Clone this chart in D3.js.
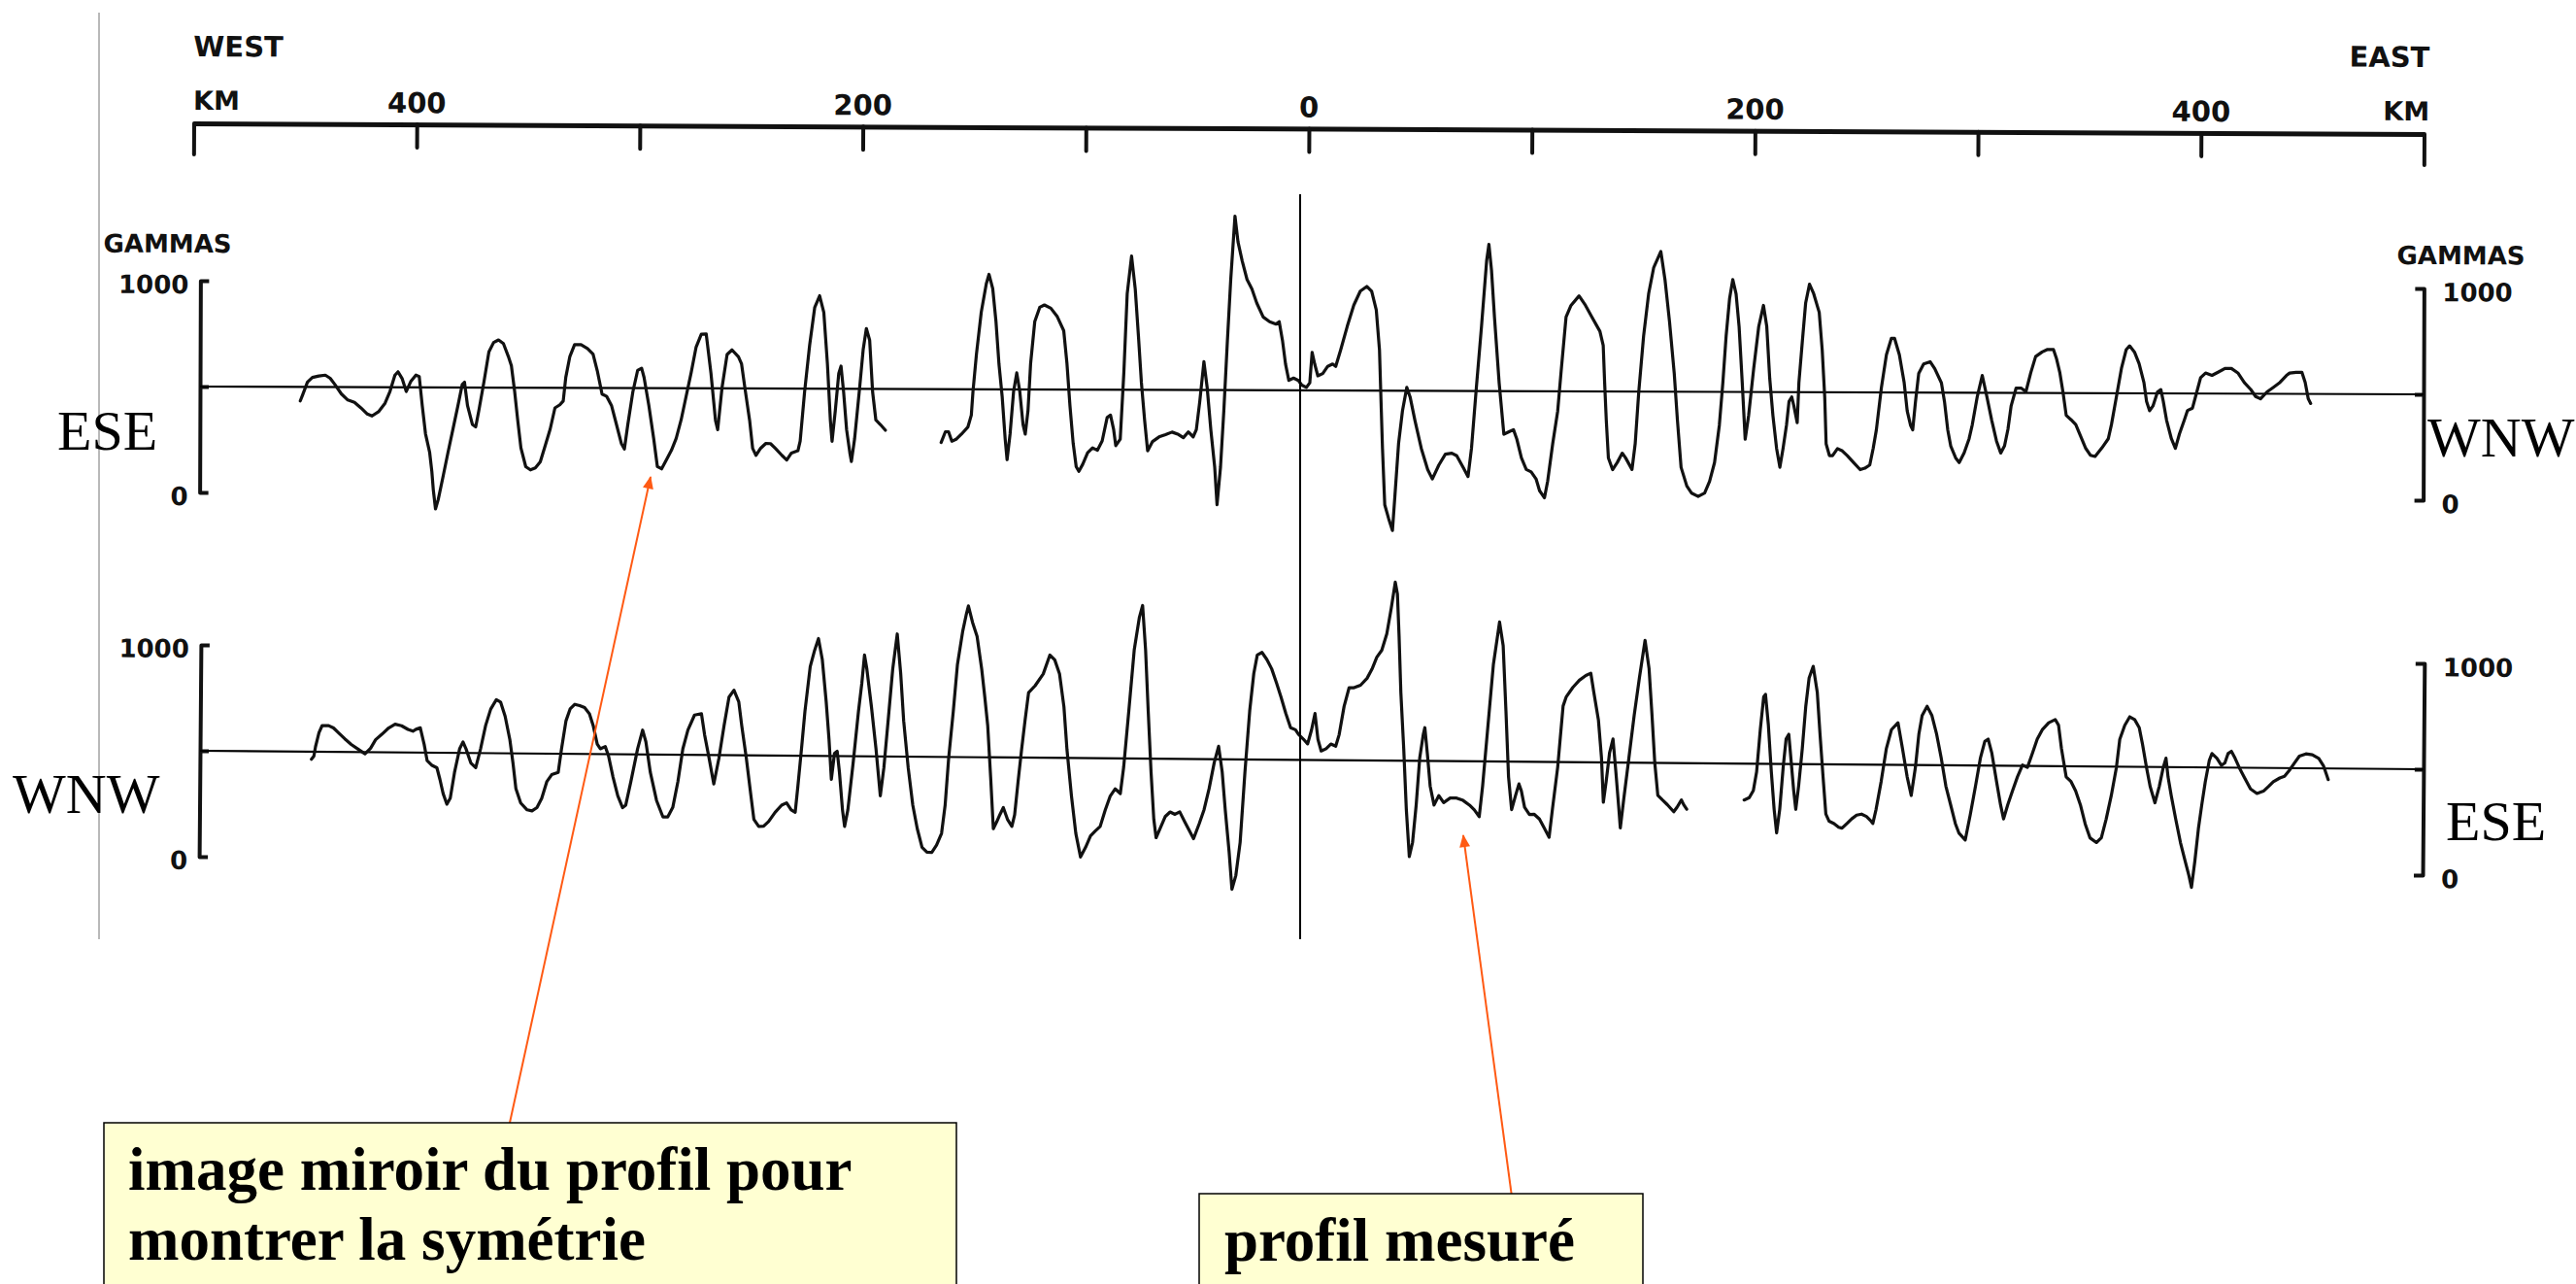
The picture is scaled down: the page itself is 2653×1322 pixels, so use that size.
<!DOCTYPE html>
<html><head><meta charset="utf-8">
<script src="https://cdn.jsdelivr.net/npm/d3@7"></script>
<style>html,body{margin:0;padding:0;background:#fff;overflow:hidden;} svg{display:block;}</style>
</head><body>
<svg id="chart" width="2653" height="1322"></svg>
<script>
// ---------- DATA ----------
const kmTicks = [-500, -400, -300, -200, -100, 0, 100, 200, 300, 400, 500];
const kmTickLabels = [[-400, "400"], [-200, "200"], [0, "0"], [200, "200"], [400, "400"]];
const gammaTicks = [0, 500, 1000];
const gammaTickLabels = [[1000, "1000"], [0, "0"]];
const directionLabels = ["WEST", "EAST"];
const unitLabels = ["KM", "GAMMAS"];
const sideLabelsTop = ["ESE", "WNW"];
const sideLabelsBottom = ["WNW", "ESE"];
const notes = [["image miroir du profil pour", "montrer la symétrie"], ["profil mesuré"]];

// mirror image of the profile (top), [km, gammas]; null = gap in the record
const mirrorProfile = [
[-452.2,434],[-451.2,461],[-449.0,523],[-446.8,545],[-443.9,552],[-441.0,556],[-438.8,541],[-436.7,512],[-433.8,468],[-430.9,439],
[-427.9,428],[-425.0,402],[-422.1,373],[-420.0,364],[-417.1,384],[-414.2,424],[-412.0,480],[-409.8,557],[-408.4,573],[-406.6,542],
[-404.7,480],[-402.6,529],[-400.4,558],[-398.9,551],[-397.5,414],[-396.0,281],[-394.1,192],[-393.1,103],[-392.4,15],[-391.4,-74],
[-390.2,-30],[-388.0,82],[-385.9,192],[-383.7,303],[-381.5,414],[-379.6,514],[-378.6,525],[-377.2,414],[-375.0,326],[-373.5,314],
[-372.1,392],[-369.9,525],[-367.7,669],[-365.6,713],[-363.4,725],[-361.2,708],[-359.0,648],[-357.6,604],[-356.1,482],[-354.7,349],
[-353.2,216],[-351.0,127],[-348.9,112],[-346.7,121],[-344.5,150],[-342.3,227],[-340.1,305],[-338.0,405],[-335.8,420],[-334.3,438],
[-333.2,549],[-331.4,648],[-329.3,704],[-326.4,704],[-323.5,686],[-321.0,660],[-319.1,582],[-316.9,471],[-314.8,460],[-312.6,416],
[-310.4,328],[-308.2,239],[-306.8,212],[-305.3,328],[-303.1,482],[-301.0,583],[-299.2,594],[-298.1,551],[-295.9,418],[-293.7,263],
[-292.0,130],[-290.1,119],[-287.9,163],[-285.7,207],[-283.6,263],[-281.4,351],[-279.2,462],[-277.0,573],[-274.8,695],[-272.5,755],
[-270.3,757],[-268.1,571],[-266.0,349],[-265.0,305],[-263.1,505],[-260.9,660],[-258.7,682],[-255.8,649],[-254.4,616],[-252.9,505],
[-250.7,350],[-249.3,217],[-247.8,184],[-245.7,218],[-243.5,240],[-241.3,240],[-239.1,218],[-236.2,185],[-234.0,163],[-231.9,196],
[-229.0,207],[-228.0,252],[-226.1,484],[-223.9,706],[-221.7,883],[-219.5,939],[-217.6,861],[-215.9,617],[-214.5,352],[-213.7,252],
[-212.3,396],[-210.8,573],[-209.8,607],[-208.6,485],[-207.2,307],[-205.7,197],[-205.0,157],[-203.6,264],[-201.4,508],[-199.9,685],
[-198.5,785],[-197.0,730],[-195.6,486],[-194.1,353],[-192.0,331],[-189.8,305],
[-177,null],
[-164.8,248],[-162.9,299],[-161.5,299],[-160.0,254],[-157.9,265],[-155.7,288],[-152.8,322],[-151.3,378],[-150.6,489],[-149.1,666],
[-147.0,865],[-144.8,998],[-143.6,1043],[-141.9,976],[-140.4,821],[-139.0,621],[-137.5,466],[-136.1,267],[-135.2,168],[-133.9,289],
[-132.4,489],[-131.0,578],[-129.6,489],[-128.1,334],[-127.1,289],[-125.9,400],[-124.8,622],[-123.0,821],[-120.8,888],[-118.7,899],
[-115.8,884],[-112.9,844],[-110.0,778],[-108.5,623],[-107.1,424],[-105.6,247],[-104.2,136],[-103.0,114],[-101.3,147],[-99.1,202],
[-96.9,225],[-94.7,214],[-92.6,258],[-90.4,369],[-88.9,380],[-87.5,314],[-86.5,236],[-84.5,267],[-83.0,578],[-81.6,954],
[-79.7,1132],[-78.0,976],[-76.5,755],[-75.1,534],[-73.6,357],[-72.2,212],[-70.0,256],[-67.1,278],[-64.2,289],[-61.3,301],
[-58.4,290],[-56.2,275],[-54.0,302],[-51.8,279],[-50.4,313],[-48.9,446],[-47.1,634],[-45.6,512],[-43.9,313],[-42.1,136],
[-41.0,-41],[-39.5,136],[-38.1,402],[-36.6,734],[-35.2,1023],[-33.4,1322],[-32.0,1200],[-30.1,1111],[-27.9,1023],[-25.7,978],
[-23.5,912],[-20.6,846],[-17.7,824],[-14.8,813],[-13.4,824],[-11.9,735],[-10.5,624],[-9.0,547],[-6.9,558],[-4.7,547],
[-3.2,525],[-1.1,514],[0.4,536],[1.4,680],[2.6,624],[4.0,569],[6.2,580],[8.4,614],[10.6,625],[12.0,614],
[14.2,692],[17.1,803],[20.0,903],[22.9,970],[25.8,992],[28.0,969],[30.1,881],[31.6,692],[32.3,471],[33.1,227],
[34.2,-39],[36.0,-105],[37.7,-160],[38.9,28],[40.3,250],[42.0,405],[43.9,516],[45.4,471],[47.6,360],[50.5,228],
[53.4,128],[55.5,84],[58.4,150],[61.3,201],[64.2,206],[66.4,194],[69.3,139],[71.5,96],[73.0,229],[75.1,517],
[77.3,805],[79.5,1115],[80.5,1193],[81.7,1071],[83.1,850],[85.3,539],[87.5,296],[89.6,307],[91.8,318],[93.3,274],
[95.4,185],[97.6,130],[99.8,119],[102.0,86],[103.6,30],[105.8,-3],[107.2,75],[109.4,252],[111.6,407],[113.0,585],
[115.2,851],[117.4,906],[121.0,951],[123.9,906],[126.8,851],[130.4,784],[131.9,718],[132.6,541],[133.4,364],[134.4,186],
[136.3,131],[138.4,165],[140.6,209],[142.1,187],[145.0,132],[146.4,254],[147.9,497],[150.0,763],[152.2,963],[154.4,1085],
[157.6,1162],[159.5,1029],[161.6,830],[163.8,586],[165.3,365],[167.0,143],[169.6,55],[171.8,21],[174.7,6],[177.6,22],
[179.8,77],[182.0,166],[184.1,343],[185.6,543],[187.0,764],[188.5,942],[189.9,1031],[191.4,963],[192.8,808],[194.3,543],
[195.7,277],[197.2,388],[199.4,610],[201.6,809],[203.7,909],[205.2,810],[206.6,566],[208.1,389],[209.8,234],[211.3,145],
[212.7,234],[214.2,344],[215.3,456],[216.5,477],[217.5,434],[219.0,356],[219.7,544],[221.2,743],[222.6,921],[224.3,1010],
[226.2,965],[228.7,877],[230.1,699],[231.3,478],[232.0,256],[233.5,201],[234.9,201],[237.1,234],[239.3,223],[241.5,201],
[244.4,168],[247.3,135],[249.4,142],[251.6,157],[253.1,235],[254.5,323],[256.7,523],[258.9,678],[261.1,756],[262.5,756],
[264.7,678],[266.9,546],[268.3,413],[269.8,346],[270.8,324],[272.0,457],[273.4,590],[275.6,635],[278.5,646],[280.6,613],
[283.6,546],[285.0,458],[286.5,325],[287.9,247],[290.1,192],[291.7,170],[293.9,216],[296.1,283],[297.5,349],[299.7,482],
[301.9,582],[304.0,482],[306.2,371],[308.4,272],[310.3,216],[312.0,250],[313.5,328],[314.9,439],[317.1,523],[319.3,523],
[321.5,506],[323.6,594],[325.8,672],[328.7,694],[330.9,705],[333.8,705],[335.2,661],[336.7,595],[338.1,506],[339.6,395],
[341.8,374],[343.9,351],[346.1,296],[348.3,241],[350.5,207],[352.6,201],[355.6,241],[358.5,285],[359.9,352],[362.1,485],
[364.3,618],[366.4,706],[367.9,724],[370.1,695],[372.2,640],[374.4,551],[375.6,462],[377.0,418],[378.5,441],[380.5,507],
[382.0,518],[383.1,463],[384.6,374],[386.8,286],[388.6,241],[390.4,309],[392.6,376],[394.0,420],[396.2,431],[397.6,487],
[399.8,575],[402.0,597],[404.9,586],[407.8,602],[410.7,619],[413.6,619],[416.5,598],[419.4,553],[422.3,520],[424.5,487],
[426.7,476],[429.6,509],[432.5,531],[435.4,554],[438.3,587],[439.7,598],[442.6,602],[445.2,602],[446.7,554],[448.1,477],
[449.2,455]
];

// measured profile (bottom), [km, gammas]; null = gap in the record
const measuredProfile = [
[-447.2,464],[-446.1,479],[-445.4,524],[-443.9,590],[-442.5,624],[-439.6,624],[-437.4,613],[-435.2,591],[-432.3,562],[-429.4,536],
[-425.8,510],[-423.2,492],[-420.7,519],[-418.5,559],[-415.6,586],[-412.7,615],[-409.8,633],[-406.9,626],[-404.0,609],[-401.8,601],
[-400.4,610],[-398.5,617],[-396.7,539],[-395.3,462],[-393.1,440],[-390.9,429],[-389.5,374],[-388.0,307],[-386.3,257],[-384.8,286],
[-383.0,407],[-380.8,519],[-379.3,552],[-377.9,519],[-375.7,453],[-373.5,431],[-371.4,520],[-369.2,631],[-367.0,708],[-364.5,753],
[-362.6,742],[-360.5,675],[-358.3,565],[-356.8,454],[-355.4,333],[-353.2,266],[-350.3,234],[-348.1,229],[-345.9,245],[-343.8,289],
[-341.6,367],[-339.4,401],[-336.5,412],[-335.1,523],[-333.2,656],[-331.4,712],[-329.3,734],[-327.1,728],[-324.9,719],[-322.7,690],
[-321.0,635],[-319.1,547],[-317.7,525],[-315.5,536],[-314.0,492],[-311.9,392],[-309.7,304],[-307.5,248],[-306.1,260],[-303.9,371],
[-301.0,526],[-298.8,615],[-297.3,560],[-295.2,416],[-292.3,283],[-289.4,206],[-287.2,206],[-285.0,251],[-282.8,373],[-280.7,528],
[-278.5,617],[-275.6,688],[-272.5,695],[-271.0,595],[-268.9,485],[-266.7,363],[-264.5,485],[-262.3,640],[-260.2,774],[-258.0,807],
[-255.8,752],[-254.4,641],[-252.2,486],[-250.0,309],[-248.6,198],[-246.4,165],[-244.2,166],[-242.0,188],[-239.1,232],[-236.2,266],
[-234.0,277],[-231.9,244],[-230.1,233],[-229.0,355],[-227.5,533],[-226.1,710],[-223.9,921],[-222.0,998],[-220.3,1054],[-218.5,954],
[-216.6,755],[-215.2,578],[-214.0,390],[-212.7,512],[-211.5,523],[-210.4,423],[-208.9,246],[-207.9,168],[-206.5,246],[-204.3,468],
[-202.1,712],[-200.7,845],[-199.6,978],[-198.5,912],[-196.3,734],[-194.1,535],[-192.0,314],[-190.5,447],[-188.6,691],[-186.9,913],
[-185.0,1079],[-183.3,891],[-181.8,669],[-179.6,448],[-177.4,271],[-175.3,160],[-173.1,72],[-170.9,50],[-168.7,49],[-166.6,83],
[-164.4,139],[-162.9,272],[-161.5,493],[-159.6,715],[-157.9,937],[-155.7,1092],[-154.2,1170],[-153.2,1214],[-151.3,1137],[-149.2,1071],
[-147.0,916],[-145.5,783],[-144.1,650],[-142.6,407],[-141.2,163],[-139.7,196],[-138.3,230],[-136.8,263],[-134.9,208],[-132.9,175],
[-131.7,230],[-130.3,385],[-128.8,540],[-127.4,674],[-125.9,807],[-123.0,840],[-119.4,896],[-116.5,985],[-114.3,963],[-112.1,897],
[-110.0,742],[-108.5,542],[-106.3,321],[-104.2,144],[-102.0,33],[-99.8,78],[-97.6,133],[-95.5,156],[-93.3,178],[-91.1,256],
[-88.9,322],[-86.7,356],[-84.4,334],[-83.0,458],[-80.9,724],[-78.7,1012],[-76.5,1167],[-75.1,1223],[-73.6,1013],[-72.2,725],
[-70.7,437],[-69.3,215],[-68.2,127],[-66.4,171],[-64.2,227],[-62.0,249],[-59.8,238],[-57.7,250],[-55.5,205],[-53.3,161],
[-51.4,124],[-48.9,195],[-46.8,261],[-44.6,361],[-42.4,484],[-40.5,561],[-38.8,440],[-37.3,262],[-35.4,63],[-34.0,-114],
[-32.3,-48],[-30.5,108],[-28.6,441],[-26.7,729],[-25.0,906],[-23.5,994],[-21.4,1006],[-19.2,973],[-17.0,929],[-14.8,863],
[-12.7,796],[-10.5,719],[-8.3,652],[-6.1,642],[-4.7,620],[-2.5,598],[-0.6,576],[1.1,642],[2.6,720],[4.0,598],
[5.5,543],[7.7,554],[9.8,576],[12.0,566],[13.5,621],[15.6,754],[17.8,843],[20.0,843],[22.9,855],[25.8,888],
[28.0,932],[30.1,988],[32.3,1021],[34.5,1099],[36.4,1221],[38.1,1343],[39.1,1288],[40.0,1089],[41.0,823],[42.5,557],
[43.9,269],[45.4,48],[46.8,114],[48.3,292],[49.7,513],[51.2,624],[51.9,657],[53.1,536],[54.5,381],[56.3,292],
[58.4,337],[60.6,304],[63.5,326],[66.4,326],[69.3,315],[72.2,293],[74.4,271],[76.6,239],[78.0,383],[80.2,671],
[82.4,959],[85.0,1159],[86.7,1048],[88.2,738],[89.6,428],[91.1,273],[92.8,340],[94.3,395],[95.4,362],[96.9,285],
[99.1,251],[101.3,252],[103.6,230],[105.8,188],[108.0,144],[109.4,277],[111.6,476],[113.8,765],[115.2,809],[118.1,853],
[121.0,887],[123.9,910],[126.1,921],[127.5,832],[129.7,699],[131.2,522],[132.2,312],[133.4,411],[134.8,545],[136.3,611],
[137.7,456],[139.2,279],[139.9,191],[141.3,324],[143.5,523],[145.7,723],[147.9,900],[150.3,1078],[152.2,945],[153.7,724],
[155.1,502],[156.6,347],[158.7,325],[160.9,303],[163.8,270],[165.3,292],[167.2,326],[168.2,304],[169.6,282],
[182,null],
[195.3,328],[197.6,339],[199.4,373],[200.8,461],[202.3,661],[203.7,816],[204.5,828],[205.9,683],[207.4,462],[208.8,285],
[210.0,174],[211.3,285],[212.7,485],[213.9,618],[215.1,640],[216.1,529],[217.5,374],[218.5,286],[219.7,397],[221.2,574],
[222.6,773],[224.0,907],[225.8,962],[227.7,840],[229.1,641],[230.6,442],[232.0,265],[233.5,231],[235.7,220],[237.8,203],
[239.3,199],[241.5,221],[243.6,243],[245.8,261],[248.0,266],[250.2,255],[252.3,233],[253.1,222],[254.5,289],[256.7,422],
[258.9,577],[261.1,666],[264.0,699],[266.1,578],[268.3,445],[270.2,356],[272.0,490],[273.4,645],[274.8,734],[277.0,778],
[279.2,734],[281.4,645],[283.5,535],[285.7,402],[287.9,314],[290.1,225],[291.7,181],[294.6,148],[296.8,270],[299.0,403],
[301.1,536],[303.0,614],[304.5,625],[306.2,559],[308.4,426],[310.3,315],[311.7,249],[313.5,315],[315.6,382],[317.8,449],
[320.0,504],[322.2,493],[324.4,560],[326.5,627],[328.7,671],[331.6,705],[334.5,720],[336.0,694],[337.4,583],[339.6,450],
[341.8,428],[343.9,384],[346.1,318],[348.3,229],[350.5,163],[353.4,141],[355.6,163],[357.7,252],[359.9,363],[362.1,496],
[363.5,629],[365.7,696],[367.9,736],[370.1,723],[372.2,685],[373.7,608],[375.6,497],[377.3,408],[379.5,331],[381.4,409],
[383.1,498],[384.3,542],[385.3,453],[386.8,365],[388.9,254],[391.1,144],[393.3,55],[395.0,-11],[396.2,-67],[397.6,55],
[399.1,211],[400.5,322],[402.0,432],[403.7,532],[404.9,566],[407.1,544],[409.2,510],[410.7,522],[412.1,566],[413.6,577],
[415.3,544],[417.2,500],[419.4,456],[422.3,400],[425.2,379],[428.1,390],[430.3,412],[432.5,435],[435.4,453],[437.5,461],
[439.7,490],[441.9,524],[444.1,557],[447.0,568],[449.9,564],[452.8,547],[454.9,513],[456.4,469],[457.1,447]
];

// ---------- DRAWING ----------
const svg = d3.select("#chart");
const W = 2653, H = 1322;
svg.append("rect").attr("width", W).attr("height", H).attr("fill", "#fff");

const sansBold = "'DejaVu Sans', 'Liberation Sans', sans-serif";
const serif = "'Liberation Serif', 'Times New Roman', serif";
const ink = "#111";

const x = d3.scaleLinear().domain([-500, 500]).range([199.5, 2496.5]);
const yTop = d3.scaleLinear().domain([0, 1000]).range([507, 289]);
const yBot = d3.scaleLinear().domain([0, 1000]).range([882, 664]);

// light grey guide line on the left
svg.append("line").attr("x1", 102).attr("x2", 102).attr("y1", 13).attr("y2", 967)
  .attr("stroke", "#b9b9b9").attr("stroke-width", 2);

// ---- km axis (slightly tilted, like the scan) ----
const axisG = svg.append("g").attr("transform", "rotate(0.274,201,127)");
const axisGen = d3.axisBottom(x).tickValues(kmTicks).tickSize(24).tickSizeOuter(0).tickFormat("");
const ag = axisG.append("g").attr("transform", "translate(0,127)").call(axisGen);
ag.select(".domain").attr("stroke", ink).attr("stroke-width", 5);
ag.selectAll(".tick line").attr("stroke", ink).attr("stroke-width", 4).attr("stroke-linecap", "round")
  .attr("y2", d => Math.abs(d) === 500 ? 32 : 24);
axisG.selectAll("text.kmlab").data(kmTickLabels).join("text").attr("class", "kmlab")
  .attr("x", d => x(d[0])).attr("y", 115).attr("text-anchor", "middle")
  .attr("font-family", sansBold).attr("font-weight", "bold").attr("font-size", 29).attr("fill", ink)
  .text(d => d[1]);
axisG.append("text").attr("x", 199).attr("y", 58).attr("font-family", sansBold).attr("font-weight", "bold")
  .attr("font-size", 29).attr("fill", ink).text(directionLabels[0]);
axisG.append("text").attr("x", 2502).attr("y", 58).attr("text-anchor", "end").attr("font-family", sansBold)
  .attr("font-weight", "bold").attr("font-size", 29).attr("fill", ink).text(directionLabels[1]);
axisG.append("text").attr("x", 199).attr("y", 113).attr("font-family", sansBold).attr("font-weight", "bold")
  .attr("font-size", 27).attr("fill", ink).text(unitLabels[0]);
axisG.append("text").attr("x", 2502).attr("y", 113).attr("text-anchor", "end").attr("font-family", sansBold)
  .attr("font-weight", "bold").attr("font-size", 27).attr("fill", ink).text(unitLabels[0]);

// ---- profile panels ----
function panel(y, profile, angle, cy, showGammas) {
  const g = svg.append("g").attr("transform", `rotate(${angle},206,${cy})`);
  const xl = 206, xr = 2496;
  // brackets
  const left = g.append("g").attr("transform", `translate(${xl},0)`)
    .call(d3.axisRight(y).tickValues(gammaTicks).tickSize(9).tickSizeOuter(9).tickFormat(""));
  const right = g.append("g").attr("transform", `translate(${xr},0)`)
    .call(d3.axisLeft(y).tickValues(gammaTicks).tickSize(9).tickSizeOuter(9).tickFormat(""));
  [left, right].forEach(a => {
    a.select(".domain").attr("stroke", ink).attr("stroke-width", 4).attr("fill", "none").attr("stroke-linejoin", "round");
    a.selectAll(".tick line").attr("stroke", ink).attr("stroke-width", 4);
    a.selectAll(".tick").filter(d => d !== 500).remove();
  });
  g.selectAll("text.gl").data(gammaTickLabels).join("text").attr("class", "gl")
    .attr("x", xl - 12).attr("y", d => y(d[0]) + 4).attr("dy", "0.35em").attr("text-anchor", "end")
    .attr("font-family", sansBold).attr("font-weight", "bold").attr("font-size", 26).attr("fill", ink).text(d => d[1]);
  g.selectAll("text.gr").data(gammaTickLabels).join("text").attr("class", "gr")
    .attr("x", xr + 19).attr("y", d => y(d[0]) + 4).attr("dy", "0.35em").attr("text-anchor", "start")
    .attr("font-family", sansBold).attr("font-weight", "bold").attr("font-size", 26).attr("fill", ink).text(d => d[1]);
  if (showGammas) {
    g.append("text").attr("x", 106).attr("y", 260).attr("font-family", sansBold).attr("font-weight", "bold")
      .attr("font-size", 26).attr("fill", ink).text(unitLabels[1]);
    g.append("text").attr("x", 2468).attr("y", 264).attr("font-family", sansBold).attr("font-weight", "bold")
      .attr("font-size", 26).attr("fill", ink).text(unitLabels[1]);
  }
  // reference line at 500 gammas
  g.append("line").attr("x1", xl).attr("x2", xr).attr("y1", y(500)).attr("y2", y(500))
    .attr("stroke", "#000").attr("stroke-width", 2.2);
  // profile
  const line = d3.line().defined(d => d[1] !== null).x(d => x(d[0])).y(d => y(d[1]));
  g.append("path").datum(profile).attr("d", line).attr("fill", "none").attr("stroke", ink)
    .attr("stroke-width", 3.2).attr("stroke-linejoin", "round").attr("stroke-linecap", "round");
}
panel(yTop, mirrorProfile, 0.2, 398, true);
panel(yBot, measuredProfile, 0.475, 773, false);

// central vertical line
svg.append("line").attr("x1", 1339).attr("x2", 1339).attr("y1", 200).attr("y2", 967)
  .attr("stroke", "#000").attr("stroke-width", 2);

// side orientation labels
const sideFont = g => g.attr("font-family", serif).attr("font-size", 58).attr("fill", "#000");
svg.append("text").attr("x", 59).attr("y", 463).call(sideFont).text(sideLabelsTop[0]);
svg.append("text").attr("x", 2500).attr("y", 470).call(sideFont).text(sideLabelsTop[1]);
svg.append("text").attr("x", 13).attr("y", 837).call(sideFont).text(sideLabelsBottom[0]);
svg.append("text").attr("x", 2519).attr("y", 865).call(sideFont).text(sideLabelsBottom[1]);

// annotation arrows
const orange = "#ff5a14";
const defs = svg.append("defs");
defs.append("marker").attr("id", "ah").attr("viewBox", "0 0 12 10").attr("refX", 11).attr("refY", 5)
  .attr("markerWidth", 14).attr("markerHeight", 11).attr("markerUnits", "userSpaceOnUse").attr("orient", "auto")
  .append("path").attr("d", "M0,0 L12,5 L0,10 Z").attr("fill", orange);
svg.append("line").attr("x1", 525).attr("y1", 1156).attr("x2", 670).attr("y2", 491)
  .attr("stroke", orange).attr("stroke-width", 2).attr("marker-end", "url(#ah)");
svg.append("line").attr("x1", 1557).attr("y1", 1232).attr("x2", 1507).attr("y2", 860)
  .attr("stroke", orange).attr("stroke-width", 2).attr("marker-end", "url(#ah)");

// annotation boxes
const boxFill = "#ffffd2";
svg.append("rect").attr("x", 107).attr("y", 1156).attr("width", 878).attr("height", 220)
  .attr("fill", boxFill).attr("stroke", "#000").attr("stroke-width", 1.5);
svg.append("rect").attr("x", 1235).attr("y", 1229).attr("width", 457).attr("height", 150)
  .attr("fill", boxFill).attr("stroke", "#000").attr("stroke-width", 1.5);
const noteFont = g => g.attr("font-family", serif).attr("font-weight", "bold").attr("font-size", 63).attr("fill", "#000");
svg.append("text").attr("x", 132).attr("y", 1225).call(noteFont).text(notes[0][0]);
svg.append("text").attr("x", 132).attr("y", 1297).call(noteFont).text(notes[0][1]);
svg.append("text").attr("x", 1261).attr("y", 1298).call(noteFont).text(notes[1][0]);
</script>
</body></html>
